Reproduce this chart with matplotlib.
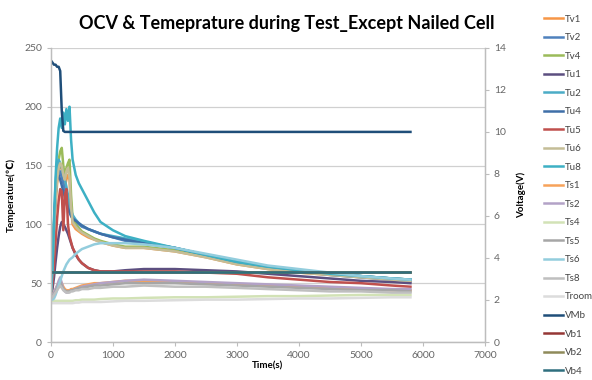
import matplotlib
matplotlib.use("Agg")
import matplotlib.pyplot as plt

plt.rcParams['font.family'] = ['Lato', 'DejaVu Sans']

# sample times (s), shared by every series
times = [0, 25, 50, 75, 100, 125, 150, 175, 200, 225, 250, 275, 300, 325, 350, 400, 450,
         500, 600, 700, 800, 1000, 1200, 1500, 2000, 2500, 3000, 3500, 4000, 4500, 5000, 5500, 5800]

# temperature series (deg C), left axis
Tv1 = [40, 60, 90, 115, 135, 145, 150, 148, 140, 132, 138, 142, 138, 115, 100, 96, 94,
       92, 89, 87, 85, 82, 80, 80, 77, 72, 66, 62, 59, 57, 55, 53, 52]
Tv2 = [40, 65, 100, 125, 140, 145, 145, 140, 135, 130, 125, 118, 112, 108, 105, 102, 100,
       98, 96, 94, 92, 89, 86, 84, 80, 74, 68, 63, 60, 57, 55, 53, 52]
Tv4 = [40, 70, 100, 125, 145, 155, 162, 165, 150, 140, 148, 152, 155, 125, 105, 100, 97,
       94, 91, 88, 86, 83, 81, 81, 78, 73, 67, 63, 60, 58, 56, 54, 53]
Tu1 = [40, 45, 55, 68, 80, 90, 98, 102, 100, 98, 95, 92, 88, 84, 80, 74, 70,
       67, 63, 61, 60, 60, 61, 62, 62, 61, 60, 58, 56, 54, 52, 51, 50]
Tu2 = [40, 70, 105, 135, 150, 155, 152, 148, 142, 138, 132, 125, 118, 112, 108, 104, 101,
       99, 96, 94, 92, 90, 88, 85, 80, 74, 69, 64, 61, 58, 56, 54, 53]
Tu4 = [40, 65, 95, 125, 140, 142, 138, 133, 128, 123, 118, 113, 110, 107, 105, 103, 101,
       99, 96, 94, 92, 89, 87, 84, 80, 74, 68, 64, 61, 58, 56, 54, 53]
Tu5 = [40, 50, 65, 85, 105, 120, 130, 128, 95, 125, 130, 100, 90, 85, 80, 75, 70,
       67, 63, 61, 60, 60, 60, 60, 60, 59, 58, 55, 53, 51, 50, 48, 47]
Tu6 = [40, 65, 95, 120, 138, 148, 152, 150, 142, 138, 145, 148, 140, 115, 102, 98, 95,
       93, 90, 87, 85, 82, 80, 80, 77, 72, 66, 62, 59, 57, 55, 53, 52]
Tu8 = [40, 60, 100, 140, 165, 182, 190, 182, 195, 185, 198, 188, 200, 172, 155, 142, 135,
       130, 120, 110, 102, 95, 90, 86, 80, 74, 68, 64, 61, 58, 56, 54, 53]
Ts1 = [38, 40, 42, 45, 48, 50, 52, 50, 47, 45, 44, 44, 44, 45, 45, 46, 47,
       48, 49, 50, 50, 51, 52, 52, 51, 50, 49, 48, 47, 46, 45, 44, 44]
Ts2 = [38, 40, 42, 45, 48, 52, 55, 50, 45, 43, 42, 42, 43, 44, 44, 45, 46,
       47, 48, 49, 50, 51, 52, 53, 52, 51, 50, 49, 48, 47, 46, 45, 45]
Ts4 = [35, 35, 35, 35, 35, 35, 35, 35, 35, 35, 35, 35, 35, 35, 35, 35.5, 35.5,
       36, 36, 36, 36.5, 37, 37, 37.5, 38, 38, 38.5, 39, 39, 39.5, 40, 40, 40]
Ts5 = [38, 39, 41, 43, 46, 49, 51, 48, 45, 44, 43, 43, 43, 44, 44, 45, 46,
       46, 47, 48, 48, 49, 50, 50, 50, 49, 48, 47, 46, 45, 44, 44, 43]
Ts6 = [38, 36, 37, 40, 44, 48, 52, 56, 60, 63, 66, 68, 70, 71, 72, 75, 77,
       79, 81, 83, 84, 84, 84, 83, 80, 75, 70, 65, 62, 59, 56, 54, 53]
Ts8 = [37, 38, 40, 42, 44, 46, 48, 46, 44, 43, 42, 42, 42, 43, 43, 44, 44,
       45, 45, 46, 46, 47, 47, 48, 47, 47, 46, 45, 44, 43, 43, 42, 42]
Troom = [33, 33, 33, 33, 33, 33, 33, 33, 33, 33, 33, 33, 33, 33, 33, 33.5, 33.5,
         34, 34, 34, 34, 34.5, 35, 35, 35.5, 36, 36, 36.5, 37, 37, 37.5, 38, 38]

# voltage series (V), right axis
VMb = [13.4, 13.3, 13.2, 13.2, 13.1, 13.1, 12.9, 11.0, 10.05, 10.0, 10.0, 10.0, 10.0, 10.0, 10.0, 10.0, 10.0,
       10.0, 10.0, 10.0, 10.0, 10.0, 10.0, 10.0, 10.0, 10.0, 10.0, 10.0, 10.0, 10.0, 10.0, 10.0, 10.0]
Vb1 = [3.33, 3.33, 3.33, 3.33, 3.33, 3.33, 3.33, 3.33, 3.33, 3.33, 3.33, 3.33, 3.33, 3.33, 3.33, 3.33, 3.33,
       3.33, 3.33, 3.33, 3.33, 3.33, 3.33, 3.33, 3.33, 3.33, 3.33, 3.33, 3.33, 3.33, 3.33, 3.33, 3.33]
Vb2 = [3.34, 3.34, 3.34, 3.34, 3.34, 3.34, 3.34, 3.34, 3.34, 3.34, 3.34, 3.34, 3.34, 3.34, 3.34, 3.34, 3.34,
       3.34, 3.34, 3.34, 3.34, 3.34, 3.34, 3.34, 3.34, 3.34, 3.34, 3.34, 3.34, 3.34, 3.34, 3.34, 3.34]
Vb4 = [3.35, 3.35, 3.35, 3.35, 3.35, 3.35, 3.35, 3.35, 3.35, 3.35, 3.35, 3.35, 3.35, 3.35, 3.35, 3.35, 3.35,
       3.35, 3.35, 3.35, 3.35, 3.35, 3.35, 3.35, 3.35, 3.35, 3.35, 3.35, 3.35, 3.35, 3.35, 3.35, 3.35]

temp_series = [("Tv1", Tv1, "#F79646"), ("Tv2", Tv2, "#4F81BD"), ("Tv4", Tv4, "#9BBB59"),
               ("Tu1", Tu1, "#5C4F80"), ("Tu2", Tu2, "#4BACC6"), ("Tu4", Tu4, "#3F6FA8"),
               ("Tu5", Tu5, "#C0504D"), ("Tu6", Tu6, "#C4BD97"), ("Tu8", Tu8, "#3DB0C4"),
               ("Ts1", Ts1, "#F7A25A"), ("Ts2", Ts2, "#B3A2C7"), ("Ts4", Ts4, "#D2E2B6"),
               ("Ts5", Ts5, "#A6A6A6"), ("Ts6", Ts6, "#93CDDD"), ("Ts8", Ts8, "#BFBFBF"),
               ("Troom", Troom, "#DCDCDC")]
volt_series = [("VMb", VMb, "#1F4E79"), ("Vb1", Vb1, "#953735"),
               ("Vb2", Vb2, "#8F8A5A"), ("Vb4", Vb4, "#2F6F7E")]

fig = plt.figure(figsize=(5.92, 3.8), dpi=100)
ax = fig.add_axes([0.086, 0.1, 0.733, 0.774])
ax2 = ax.twinx()

handles = []
for name, vals, col in temp_series:
    h, = ax.plot(times, vals, color=col, lw=1.8, label=name)
    handles.append(h)
for name, vals, col in volt_series:
    h, = ax2.plot(times, vals, color=col, lw=1.8, label=name)
    handles.append(h)

ax.set_xlim(0, 7000)
ax.set_ylim(0, 250)
ax2.set_ylim(0, 14)
ax.set_xticks(range(0, 7001, 1000))
ax.set_yticks(range(0, 251, 50))
ax2.set_yticks(range(0, 15, 2))

ax.grid(axis='y', color='#D0D0D0', lw=0.9)
ax.set_axisbelow(True)

for a in (ax, ax2):
    a.spines['top'].set_visible(False)
    for s in ('left', 'right', 'bottom'):
        a.spines[s].set_color('#BDBDBD')
        a.spines[s].set_linewidth(0.9)
    a.tick_params(labelsize=7.5, colors='#666666', length=3, width=0.8)
    a.tick_params(axis='both', color='#BDBDBD')

ax.set_xlabel("Time(s)", fontsize=7, fontweight='bold', labelpad=1)
ax.set_ylabel("Temperature(℃)", fontsize=7, fontweight='bold', labelpad=6)
ax2.set_ylabel("Voltage(V)", fontsize=7, fontweight='bold', labelpad=8)

fig.text(0.485, 0.937, "OCV & Temeprature during Test_Except Nailed Cell",
         fontsize=13, fontweight='bold', ha='center', va='center')

fig.legend(handles=handles, loc='upper left', bbox_to_anchor=(0.912, 0.972),
           frameon=False, fontsize=7, handlelength=2.0, handletextpad=0.2,
           labelspacing=0.98, borderaxespad=0, labelcolor='#444444')

fig.savefig("out.png", dpi=100)
